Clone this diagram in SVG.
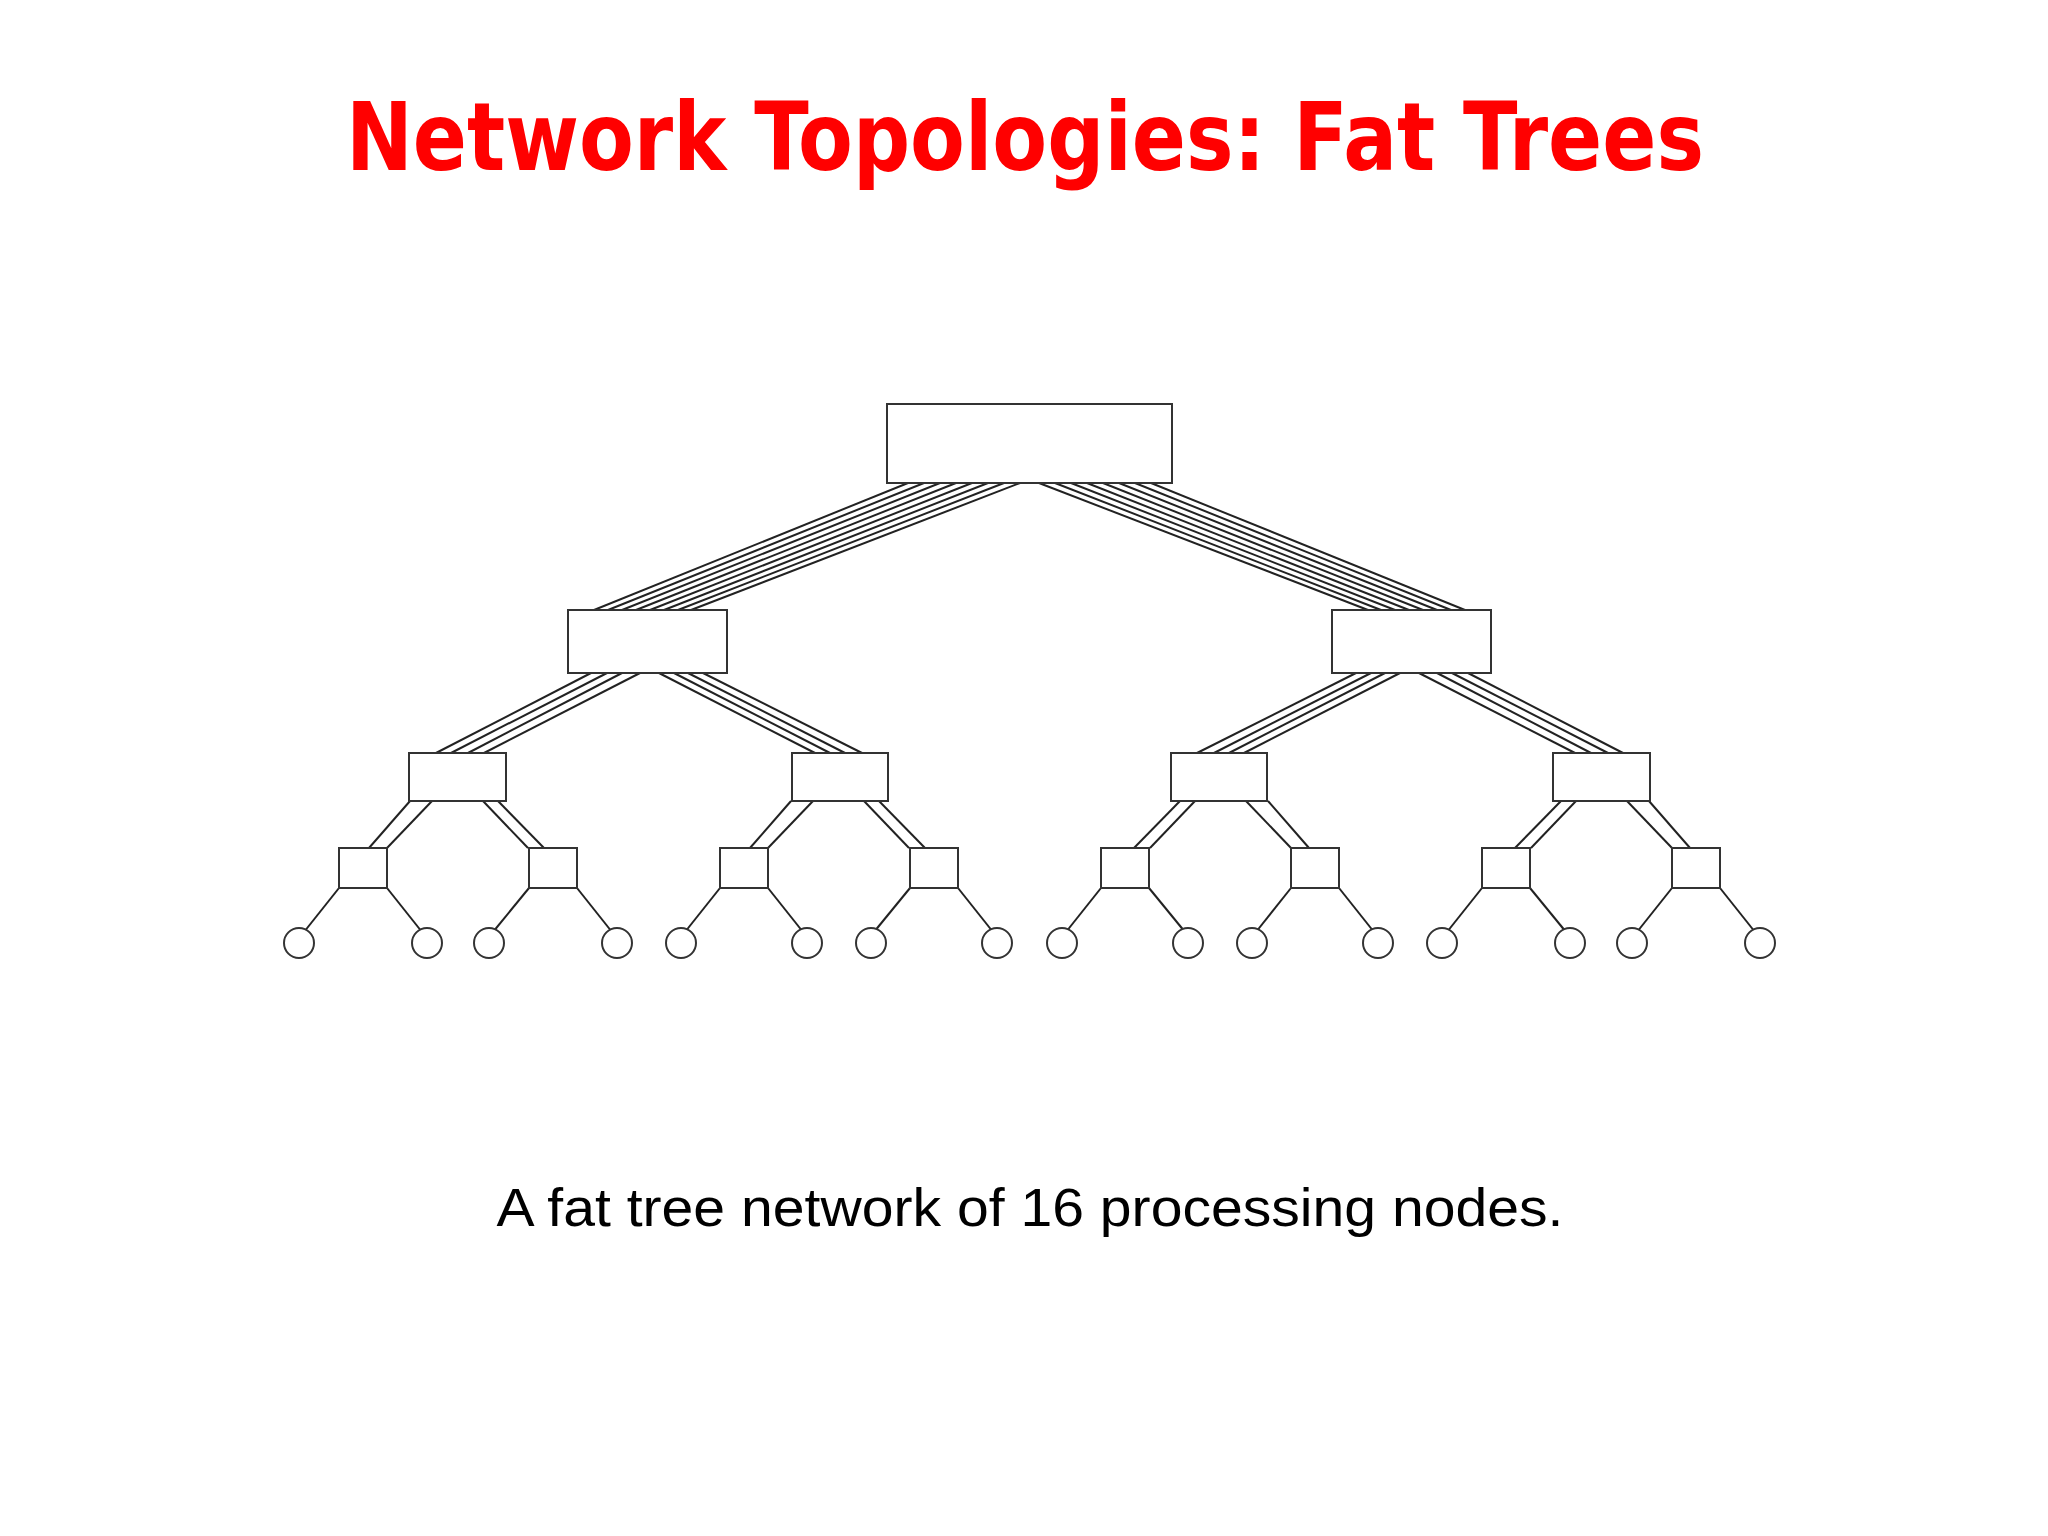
<svg xmlns="http://www.w3.org/2000/svg" width="2048" height="1536" viewBox="0 0 2048 1536">
<style>
.n{fill:#fff;stroke:#333;stroke-width:2}
.t{font-family:"DejaVu Sans",Verdana,sans-serif;font-weight:bold;fill:#f00}
.s{font-family:"Liberation Sans",Arial,sans-serif;fill:#000}
</style>
<defs>
<g id="q">
<line x1="591" y1="673" x2="436" y2="753"/><line x1="607" y1="673" x2="451" y2="753"/><line x1="622" y1="673" x2="468" y2="753"/><line x1="640" y1="673" x2="484" y2="753"/>
<line x1="659" y1="673" x2="815" y2="753"/><line x1="674" y1="673" x2="830" y2="753"/><line x1="688" y1="673" x2="845" y2="753"/><line x1="703" y1="673" x2="862" y2="753"/>
</g>
<g id="p">
<line x1="410" y1="801" x2="369" y2="848"/><line x1="432" y1="801" x2="387" y2="848"/>
<line x1="483" y1="801" x2="528" y2="848"/><line x1="498" y1="801" x2="544" y2="848"/>
<line x1="339" y1="888" x2="304" y2="932"/><line x1="387" y1="888" x2="422" y2="932"/>
<line x1="529" y1="888" x2="493" y2="932"/><line x1="577" y1="888" x2="612" y2="932"/>
</g>
<g id="h">
<line x1="908" y1="483" x2="594" y2="610"/><line x1="924" y1="483" x2="608" y2="610"/><line x1="940" y1="483" x2="622" y2="610"/><line x1="956" y1="483" x2="636" y2="610"/><line x1="972" y1="483" x2="650" y2="610"/><line x1="988" y1="483" x2="664" y2="610"/><line x1="1004" y1="483" x2="678" y2="610"/><line x1="1020" y1="483" x2="691" y2="610"/>
<use href="#q"/>
<use href="#p"/><use href="#p" transform="translate(381,0)"/>
</g>
</defs>
<rect width="2048" height="1536" fill="#fff"/>
<text class="t" x="1025" y="170" font-size="94" text-anchor="middle" textLength="1358" lengthAdjust="spacingAndGlyphs">Network Topologies: Fat Trees</text>
<g id="connectors" stroke="#222" stroke-width="2" fill="none">
<use href="#h"/>
<use href="#h" transform="matrix(-1 0 0 1 2059 0)"/>
</g>
<g id="root"><rect class="n" x="887" y="404" width="285" height="79"/></g>
<g id="s1a"><rect class="n" x="568" y="610" width="159" height="63"/></g>
<g id="s1b"><rect class="n" x="1332" y="610" width="159" height="63"/></g>
<g id="s2a"><rect class="n" x="409" y="753" width="97" height="48"/></g>
<g id="s2b"><rect class="n" x="792" y="753" width="96" height="48"/></g>
<g id="s2c"><rect class="n" x="1171" y="753" width="96" height="48"/></g>
<g id="s2d"><rect class="n" x="1553" y="753" width="97" height="48"/></g>
<g id="s3a"><rect class="n" x="339" y="848" width="48" height="40"/></g>
<g id="s3b"><rect class="n" x="529" y="848" width="48" height="40"/></g>
<g id="s3c"><rect class="n" x="720" y="848" width="48" height="40"/></g>
<g id="s3d"><rect class="n" x="910" y="848" width="48" height="40"/></g>
<g id="s3e"><rect class="n" x="1101" y="848" width="48" height="40"/></g>
<g id="s3f"><rect class="n" x="1291" y="848" width="48" height="40"/></g>
<g id="s3g"><rect class="n" x="1482" y="848" width="48" height="40"/></g>
<g id="s3h"><rect class="n" x="1672" y="848" width="48" height="40"/></g>
<g id="leaves">
<circle class="n" cx="299" cy="943" r="15"/><circle class="n" cx="427" cy="943" r="15"/>
<circle class="n" cx="489" cy="943" r="15"/><circle class="n" cx="617" cy="943" r="15"/>
<circle class="n" cx="681" cy="943" r="15"/><circle class="n" cx="807" cy="943" r="15"/>
<circle class="n" cx="871" cy="943" r="15"/><circle class="n" cx="997" cy="943" r="15"/>
<circle class="n" cx="1062" cy="943" r="15"/><circle class="n" cx="1188" cy="943" r="15"/>
<circle class="n" cx="1252" cy="943" r="15"/><circle class="n" cx="1378" cy="943" r="15"/>
<circle class="n" cx="1442" cy="943" r="15"/><circle class="n" cx="1570" cy="943" r="15"/>
<circle class="n" cx="1632" cy="943" r="15"/><circle class="n" cx="1760" cy="943" r="15"/>
</g>
<text class="s" x="1030" y="1226" font-size="54" text-anchor="middle" textLength="1067" lengthAdjust="spacingAndGlyphs">A fat tree network of 16 processing nodes.</text>
</svg>
